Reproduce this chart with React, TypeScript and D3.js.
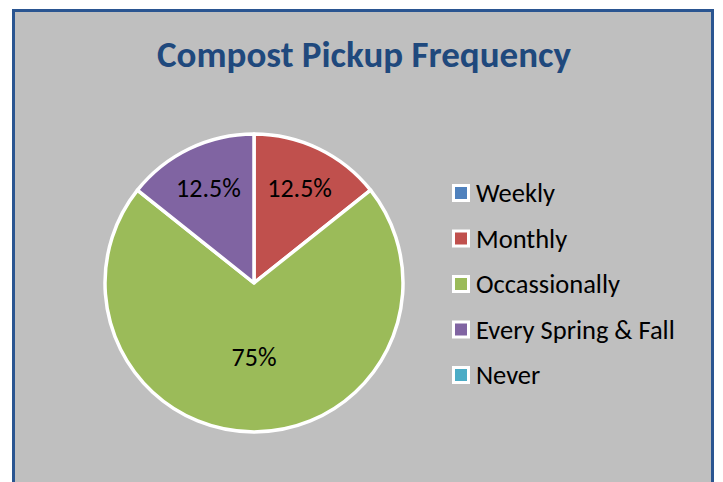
import React from "react";
import * as d3 from "d3";

const categories = ["Weekly", "Monthly", "Occassionally", "Every Spring & Fall", "Never"];
// slice sizes as drawn in the picture (angles measured), labels as printed
const values = [0, 14.3, 71.4, 14.3, 0];
const labels = ["", "12.5%", "75%", "12.5%", ""];
const colors = ["#4F81BD", "#C0504D", "#9BBB59", "#8064A2", "#4BACC6"];

const W = 723, H = 482;
const cx = 254, cy = 283, R = 149;

export default function App() {
  const pie = d3.pie<number>().sort(null).value((d) => d)(values);
  const arc = d3.arc<d3.PieArcDatum<number>>().innerRadius(0).outerRadius(R);
  const labelArc = d3.arc<d3.PieArcDatum<number>>().innerRadius(105).outerRadius(105);
  const font = "Carlito, 'Open Sans', 'Noto Sans', sans-serif";
  const legendY = d3.scaleLinear().domain([0, 4]).range([193, 375]);
  return (
    <svg width={W} height={H} style={{ position: "absolute", left: 0, top: 0 }}>
      <rect x={0} y={0} width={W} height={H} fill="#ffffff" />
      <rect x={13.5} y={10.5} width={699} height={H} fill="#BFBFBF" stroke="#2A5591" strokeWidth={3} />
      <text x={364} y={67} textAnchor="middle" fontFamily={font} fontWeight="bold" fontSize={37} fill="#1F497D">
        Compost Pickup Frequency
      </text>
      <g transform={`translate(${cx},${cy})`}>
        {pie.map((p, i) =>
          p.value > 0 ? (
            <path key={i} d={arc(p) || ""} fill={colors[i]} stroke="#ffffff" strokeWidth={3.5} strokeLinejoin="round" />
          ) : null
        )}
        {pie.map((p, i) => {
          if (!labels[i]) return null;
          const [lx, ly] = i === 2 ? [0, 74] : labelArc.centroid(p);
          return (
            <text key={"l" + i} x={lx} y={ly} textAnchor="middle" dominantBaseline="central" fontFamily={font} fontSize={26} fill="#000">
              {labels[i]}
            </text>
          );
        })}
      </g>
      {categories.map((c, i) => (
        <g key={c} transform={`translate(452,${legendY(i)})`}>
          <rect x={0} y={-9} width={18} height={18} fill="#ffffff" />
          <rect x={3} y={-6} width={12} height={12} fill={colors[i]} />
          <text x={24} y={0} dominantBaseline="central" fontFamily={font} fontSize={26.5} fill="#000">
            {c}
          </text>
        </g>
      ))}
    </svg>
  );
}
